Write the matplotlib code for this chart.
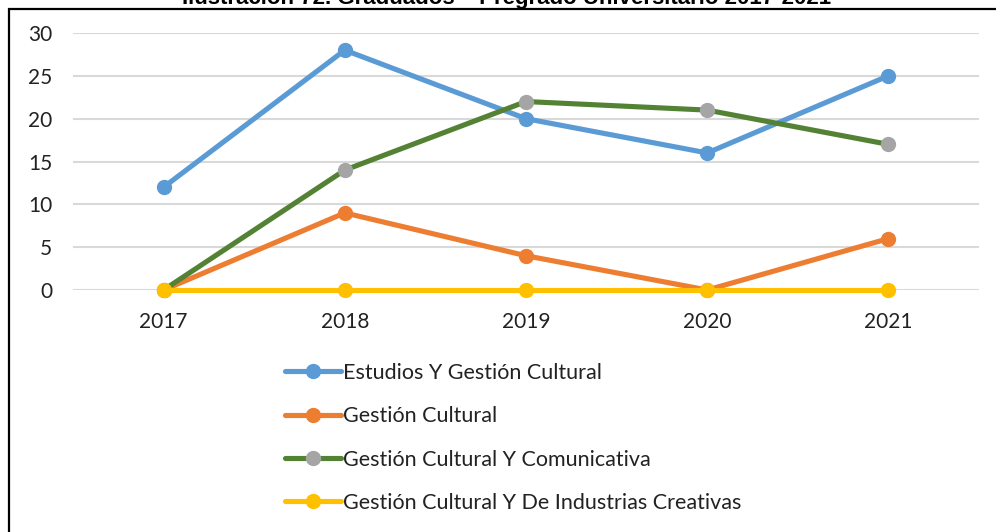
import matplotlib
matplotlib.use("Agg")
import matplotlib.pyplot as plt
from matplotlib.patches import Rectangle

plt.rcParams['font.family'] = ['Lato', 'DejaVu Sans']

years = ['2017', '2018', '2019', '2020', '2021']
estudios_gestion = [12, 28, 20, 16, 25]
gestion_cultural = [0, 9, 4, 0, 6]
gestion_comunicativa = [0, 14, 22, 21, 17]
gestion_industrias = [0, 0, 0, 0, 0]

series_names = [
    'Estudios Y Gestión Cultural',
    'Gestión Cultural',
    'Gestión Cultural Y Comunicativa',
    'Gestión Cultural Y De Industrias Creativas',
]
y_ticks = [0, 5, 10, 15, 20, 25, 30]
title_text = 'Ilustración 72. Graduados – Pregrado Universitario 2017-2021'

W, H = 996, 532
fig = plt.figure(figsize=(W / 100, H / 100), dpi=100)
fig.patch.set_facecolor('white')

ax = fig.add_axes([73 / W, 1 - 290 / H, (979 - 73) / W, (290 - 33) / H])
x = list(range(len(years)))

styles = [
    (estudios_gestion, '#5B9BD5', '#5B9BD5'),
    (gestion_cultural, '#ED7D31', '#ED7D31'),
    (gestion_comunicativa, '#548235', '#A5A5A5'),
    (gestion_industrias, '#FFC000', '#FFC000'),
]
for (vals, lc, mc), name in zip(styles, series_names):
    ax.plot(x, vals, color=lc, lw=3.7, marker='o', ms=10,
            markerfacecolor=mc, markeredgecolor=mc, label=name,
            clip_on=False, solid_capstyle='round')

ax.set_xlim(-0.5, len(years) - 0.5)
ax.set_ylim(0, 30)
ax.set_yticks(y_ticks)
ax.set_xticks(x)
ax.set_xticklabels(years)
ax.grid(axis='y', color='#D9D9D9', lw=1.5)
ax.set_axisbelow(True)
for s in ax.spines.values():
    s.set_visible(False)
ax.tick_params(axis='both', length=0, labelsize=15, colors='#222222')
ax.tick_params(axis='y', pad=15)
ax.tick_params(axis='x', pad=16)

leg = ax.legend(loc='upper left', bbox_to_anchor=(285 / W, 1 - 363 / H),
                bbox_transform=fig.transFigure, frameon=False, fontsize=15.5,
                handlelength=2.6, handletextpad=0.1, labelspacing=1.08,
                borderpad=0, borderaxespad=0)
for t in leg.get_texts():
    t.set_color('#222222')

fig.text(507 / W, 1 - 4 / H, title_text, ha='center', va='baseline',
         fontsize=16, fontweight='bold', family=['Liberation Sans', 'DejaVu Sans'])

fig.patches.append(Rectangle((9 / W, -0.2), 1.2, 1 - 9 / H + 0.2,
                             transform=fig.transFigure, fill=False,
                             edgecolor='black', lw=1.6))

fig.savefig('out.png', dpi=100)
